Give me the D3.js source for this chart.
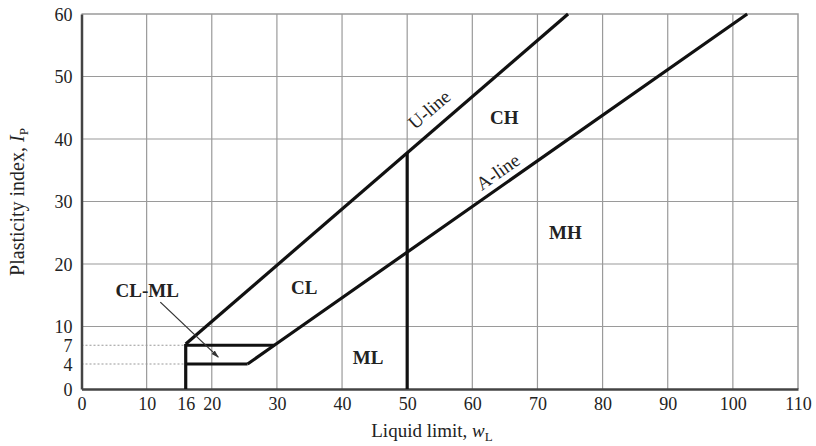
<!DOCTYPE html>
<html>
<head>
<meta charset="utf-8">
<script src="https://cdn.jsdelivr.net/npm/d3@7"></script>
<style>
  body { margin: 0; background: #fff; }
  text { font-family: "Liberation Serif", "Times New Roman", serif; fill: #222; }
</style>
</head>
<body>
<div id="chart"></div>
<script>
var svgWidth = 816;
var svgHeight = 446;

var margin = { top: 14, right: 18, bottom: 57, left: 81.5 };
var width = svgWidth - margin.left - margin.right;
var height = svgHeight - margin.top - margin.bottom;

// data
var xTicks = [0, 10, 16, 20, 30, 40, 50, 60, 70, 80, 90, 100, 110];
var xGrid = [10, 20, 30, 40, 50, 60, 70, 80, 90, 100];
var yTicks = [0, 4, 7, 10, 20, 30, 40, 50, 60];
var yGrid = [10, 20, 30, 40, 50];
var dottedLevels = [4, 7];

// U-line: Ip = 0.9 (wL - 8), A-line: Ip = 0.73 (wL - 20)
var uLine = [[16, 7.2], [74.7, 60]];
var aLine = [[25.5, 4], [29.6, 7], [102.2, 60]];
var boundaries = [
  [[16, 0], [16, 7.2]],
  [[16, 7], [29.6, 7]],
  [[16, 4], [25.5, 4]],
  [[50, 0], [50, 37.8]]
];

var regionLabels = [
  { name: "CH", x: 64.9, y: 43.4 },
  { name: "MH", x: 74.3, y: 25.1 },
  { name: "CL", x: 34.2, y: 16.3 },
  { name: "ML", x: 44.0, y: 5.1 },
  { name: "CL-ML", x: 10.1, y: 15.8 }
];
var lineLabels = [
  { name: "U-line", x: 53.8, y: 44.2, line: uLine },
  { name: "A-line", x: 64.3, y: 34.2, line: [aLine[1], aLine[2]] }
];
var pointer = [[12.1, 13.9], [21.0, 5.1]];

var svg = d3.select("#chart").append("svg")
  .attr("width", svgWidth)
  .attr("height", svgHeight);

var chartGroup = svg.append("g")
  .attr("transform", `translate(${margin.left}, ${margin.top})`);

var x = d3.scaleLinear().domain([0, 110]).range([0, width]);
var y = d3.scaleLinear().domain([0, 60]).range([height, 0]);

// grid
chartGroup.selectAll(".vgrid").data(xGrid).enter().append("line")
  .attr("x1", d => x(d)).attr("x2", d => x(d))
  .attr("y1", 0).attr("y2", height)
  .attr("stroke", "#9a9a9a").attr("stroke-width", 1.2);

chartGroup.selectAll(".hgrid").data(yGrid).enter().append("line")
  .attr("x1", 0).attr("x2", width)
  .attr("y1", d => y(d)).attr("y2", d => y(d))
  .attr("stroke", "#9a9a9a").attr("stroke-width", 1.2);

chartGroup.selectAll(".dots").data(dottedLevels).enter().append("line")
  .attr("x1", x(0)).attr("x2", x(16))
  .attr("y1", d => y(d)).attr("y2", d => y(d))
  .attr("stroke", "#999").attr("stroke-width", 1.2)
  .attr("stroke-dasharray", "2,2");

// top / right border
chartGroup.append("path")
  .attr("d", `M0,0H${width}V${height}`)
  .attr("fill", "none")
  .attr("stroke", "#9a9a9a").attr("stroke-width", 1.5);

// axes
var bottomAxis = d3.axisBottom(x).tickValues(xTicks).tickSize(0).tickPadding(8);
var leftAxis = d3.axisLeft(y).tickValues(yTicks).tickSize(0).tickPadding(9);

var xAxis = chartGroup.append("g")
  .attr("transform", `translate(0, ${height})`)
  .call(bottomAxis);
var yAxis = chartGroup.append("g").call(leftAxis);

[xAxis, yAxis].forEach(function(ax) {
  ax.select(".domain").attr("stroke", "#444").attr("stroke-width", 2.5);
  ax.selectAll("text")
    .attr("font-family", "Liberation Serif")
    .attr("font-size", "18px")
    .attr("fill", "#333");
});
yAxis.selectAll("text").attr("dy", "0.35em");

// thick lines
var lineGen = d3.line().x(d => x(d[0])).y(d => y(d[1]));

chartGroup.selectAll(".bound").data(boundaries.concat([uLine, aLine])).enter()
  .append("path")
  .attr("d", lineGen)
  .attr("fill", "none")
  .attr("stroke", "#111")
  .attr("stroke-width", 3.2)
  .attr("stroke-linejoin", "miter");

// pointer for CL-ML
svg.append("defs").append("marker")
  .attr("id", "arrow")
  .attr("viewBox", "0 0 10 10")
  .attr("refX", 9).attr("refY", 5)
  .attr("markerWidth", 6).attr("markerHeight", 6)
  .attr("orient", "auto")
  .append("path").attr("d", "M0,2L10,5L0,8Z").attr("fill", "#333");

chartGroup.append("path")
  .attr("d", lineGen(pointer))
  .attr("stroke", "#333").attr("stroke-width", 1.3)
  .attr("fill", "none")
  .attr("marker-end", "url(#arrow)");

// region labels
chartGroup.selectAll(".region").data(regionLabels).enter().append("text")
  .attr("x", d => x(d.x))
  .attr("y", d => y(d.y))
  .attr("dy", "0.35em")
  .attr("text-anchor", "middle")
  .attr("font-size", "19px")
  .attr("font-weight", "bold")
  .attr("fill", "#111")
  .text(d => d.name);

// line labels, rotated along each line
chartGroup.selectAll(".lineLabel").data(lineLabels).enter().append("text")
  .attr("transform", function(d) {
    var p0 = d.line[0], p1 = d.line[1];
    var ang = Math.atan2(y(p1[1]) - y(p0[1]), x(p1[0]) - x(p0[0])) * 180 / Math.PI;
    return `translate(${x(d.x)}, ${y(d.y)}) rotate(${ang})`;
  })
  .attr("text-anchor", "middle")
  .attr("dy", "0.12em")
  .attr("font-size", "19px")
  .attr("fill", "#333")
  .text(d => d.name);

// axis titles
var xTitle = svg.append("text")
  .attr("x", 432)
  .attr("y", 437)
  .attr("text-anchor", "middle")
  .attr("font-size", "19px")
  .attr("fill", "#333");
xTitle.append("tspan").text("Liquid limit, ");
xTitle.append("tspan").attr("font-style", "italic").text("w");
xTitle.append("tspan").attr("font-size", "13px").attr("dy", "4").text("L");

var yTitle = svg.append("text")
  .attr("transform", "translate(24, 202) rotate(-90)")
  .attr("text-anchor", "middle")
  .attr("font-size", "20px")
  .attr("fill", "#333");
yTitle.append("tspan").text("Plasticity index, ");
yTitle.append("tspan").attr("font-style", "italic").text("I");
yTitle.append("tspan").attr("font-size", "13px").attr("dy", "4").text("P");
</script>
</body>
</html>
